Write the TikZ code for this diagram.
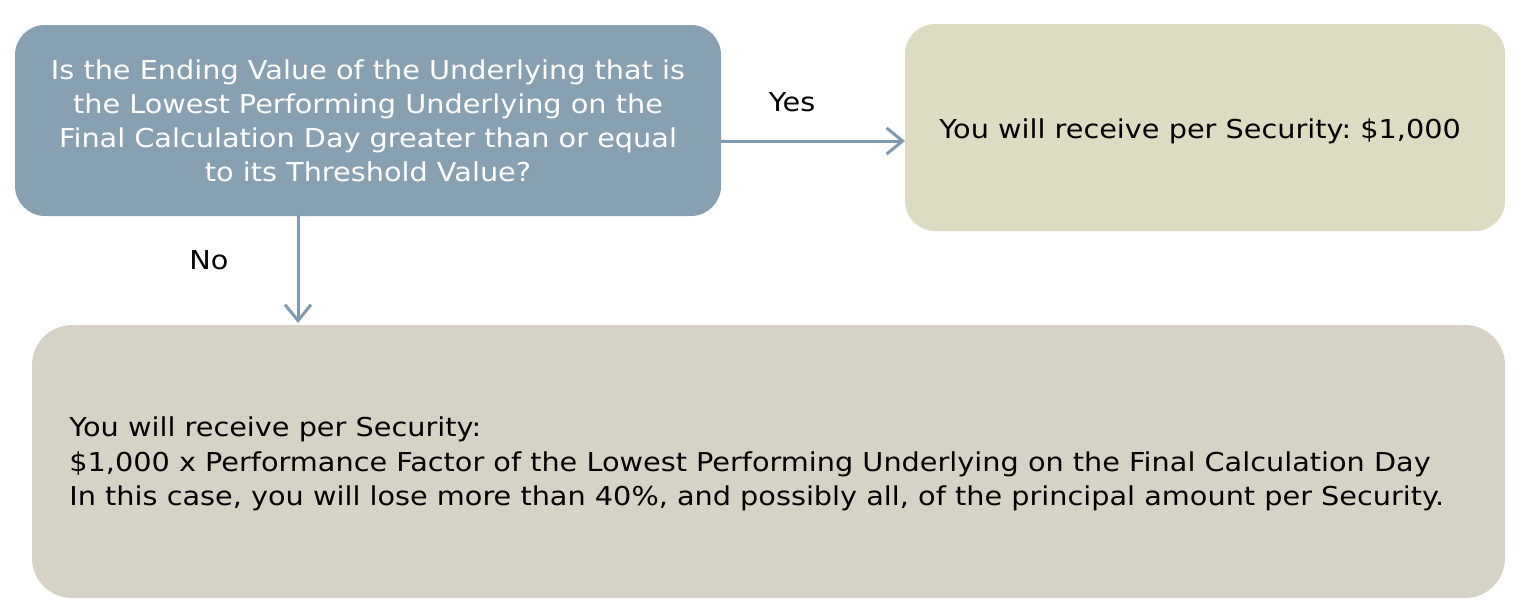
\documentclass[tikz,border=0pt]{standalone}
\usepackage{fontspec}
\setmainfont[FakeStretch=1.105]{DejaVu Sans}
\frenchspacing
\usetikzlibrary{arrows.meta}
\definecolor{qblue}{RGB}{136,161,178}
\definecolor{ygreen}{RGB}{221,219,193}
\definecolor{nbeige}{RGB}{214,210,198}
\definecolor{arrowc}{RGB}{128,155,175}
\tikzset{
  box/.style={rounded corners=15pt, inner sep=0pt, outer sep=0pt},
  conn/.style={draw=arrowc, line width=1.5pt, -{Straight Barb[length=8pt,width=13pt,line width=1.5pt]}},
  lbl/.style={font=\fontsize{13pt}{17.25pt}\selectfont, text=black, inner sep=0pt},
}
\begin{document}
\begin{tikzpicture}[x=0.5pt,y=-0.5pt]
\useasboundingbox (0,0) rectangle (1535,611);
\node[box, fill=qblue, minimum width=353pt, minimum height=95.5pt, text=white, align=center,
  font=\fontsize{13pt}{17pt}\selectfont] (q) at (368,120.5)
  {Is the Ending Value of the Underlying that is\\the Lowest Performing Underlying on the\\Final Calculation Day greater than or equal\\to its Threshold Value?};
\node[box, fill=ygreen, minimum width=300pt, minimum height=103.5pt] (yes) at (1205,127.5) {};
\node[lbl, anchor=west] (yest) at (939,131) {You will receive per Security: \$1,000};
\node[box, rounded corners=20pt, fill=nbeige, minimum width=736.5pt, minimum height=136.5pt] (no) at (768.5,461.5) {};
\node[lbl, anchor=west, align=left] (notext) at (69,464)
  {You will receive per Security:\\\$1,000 x Performance Factor of the Lowest Performing Underlying on the Final Calculation Day\\In this case, you will lose more than 40\%, and possibly all, of the principal amount per Security.};
\coordinate (qs) at (298,215);
\coordinate (ne) at (298,323);
\coordinate (qe) at (721,141);
\coordinate (ye) at (905,141);
\draw[conn] (qe) -- (ye);
\draw[conn] (qs) -- (ne);
\node[lbl] (ylab) at (792,102) {Yes};
\node[lbl] (nlab) at (209,260) {No};
\end{tikzpicture}
\end{document}
